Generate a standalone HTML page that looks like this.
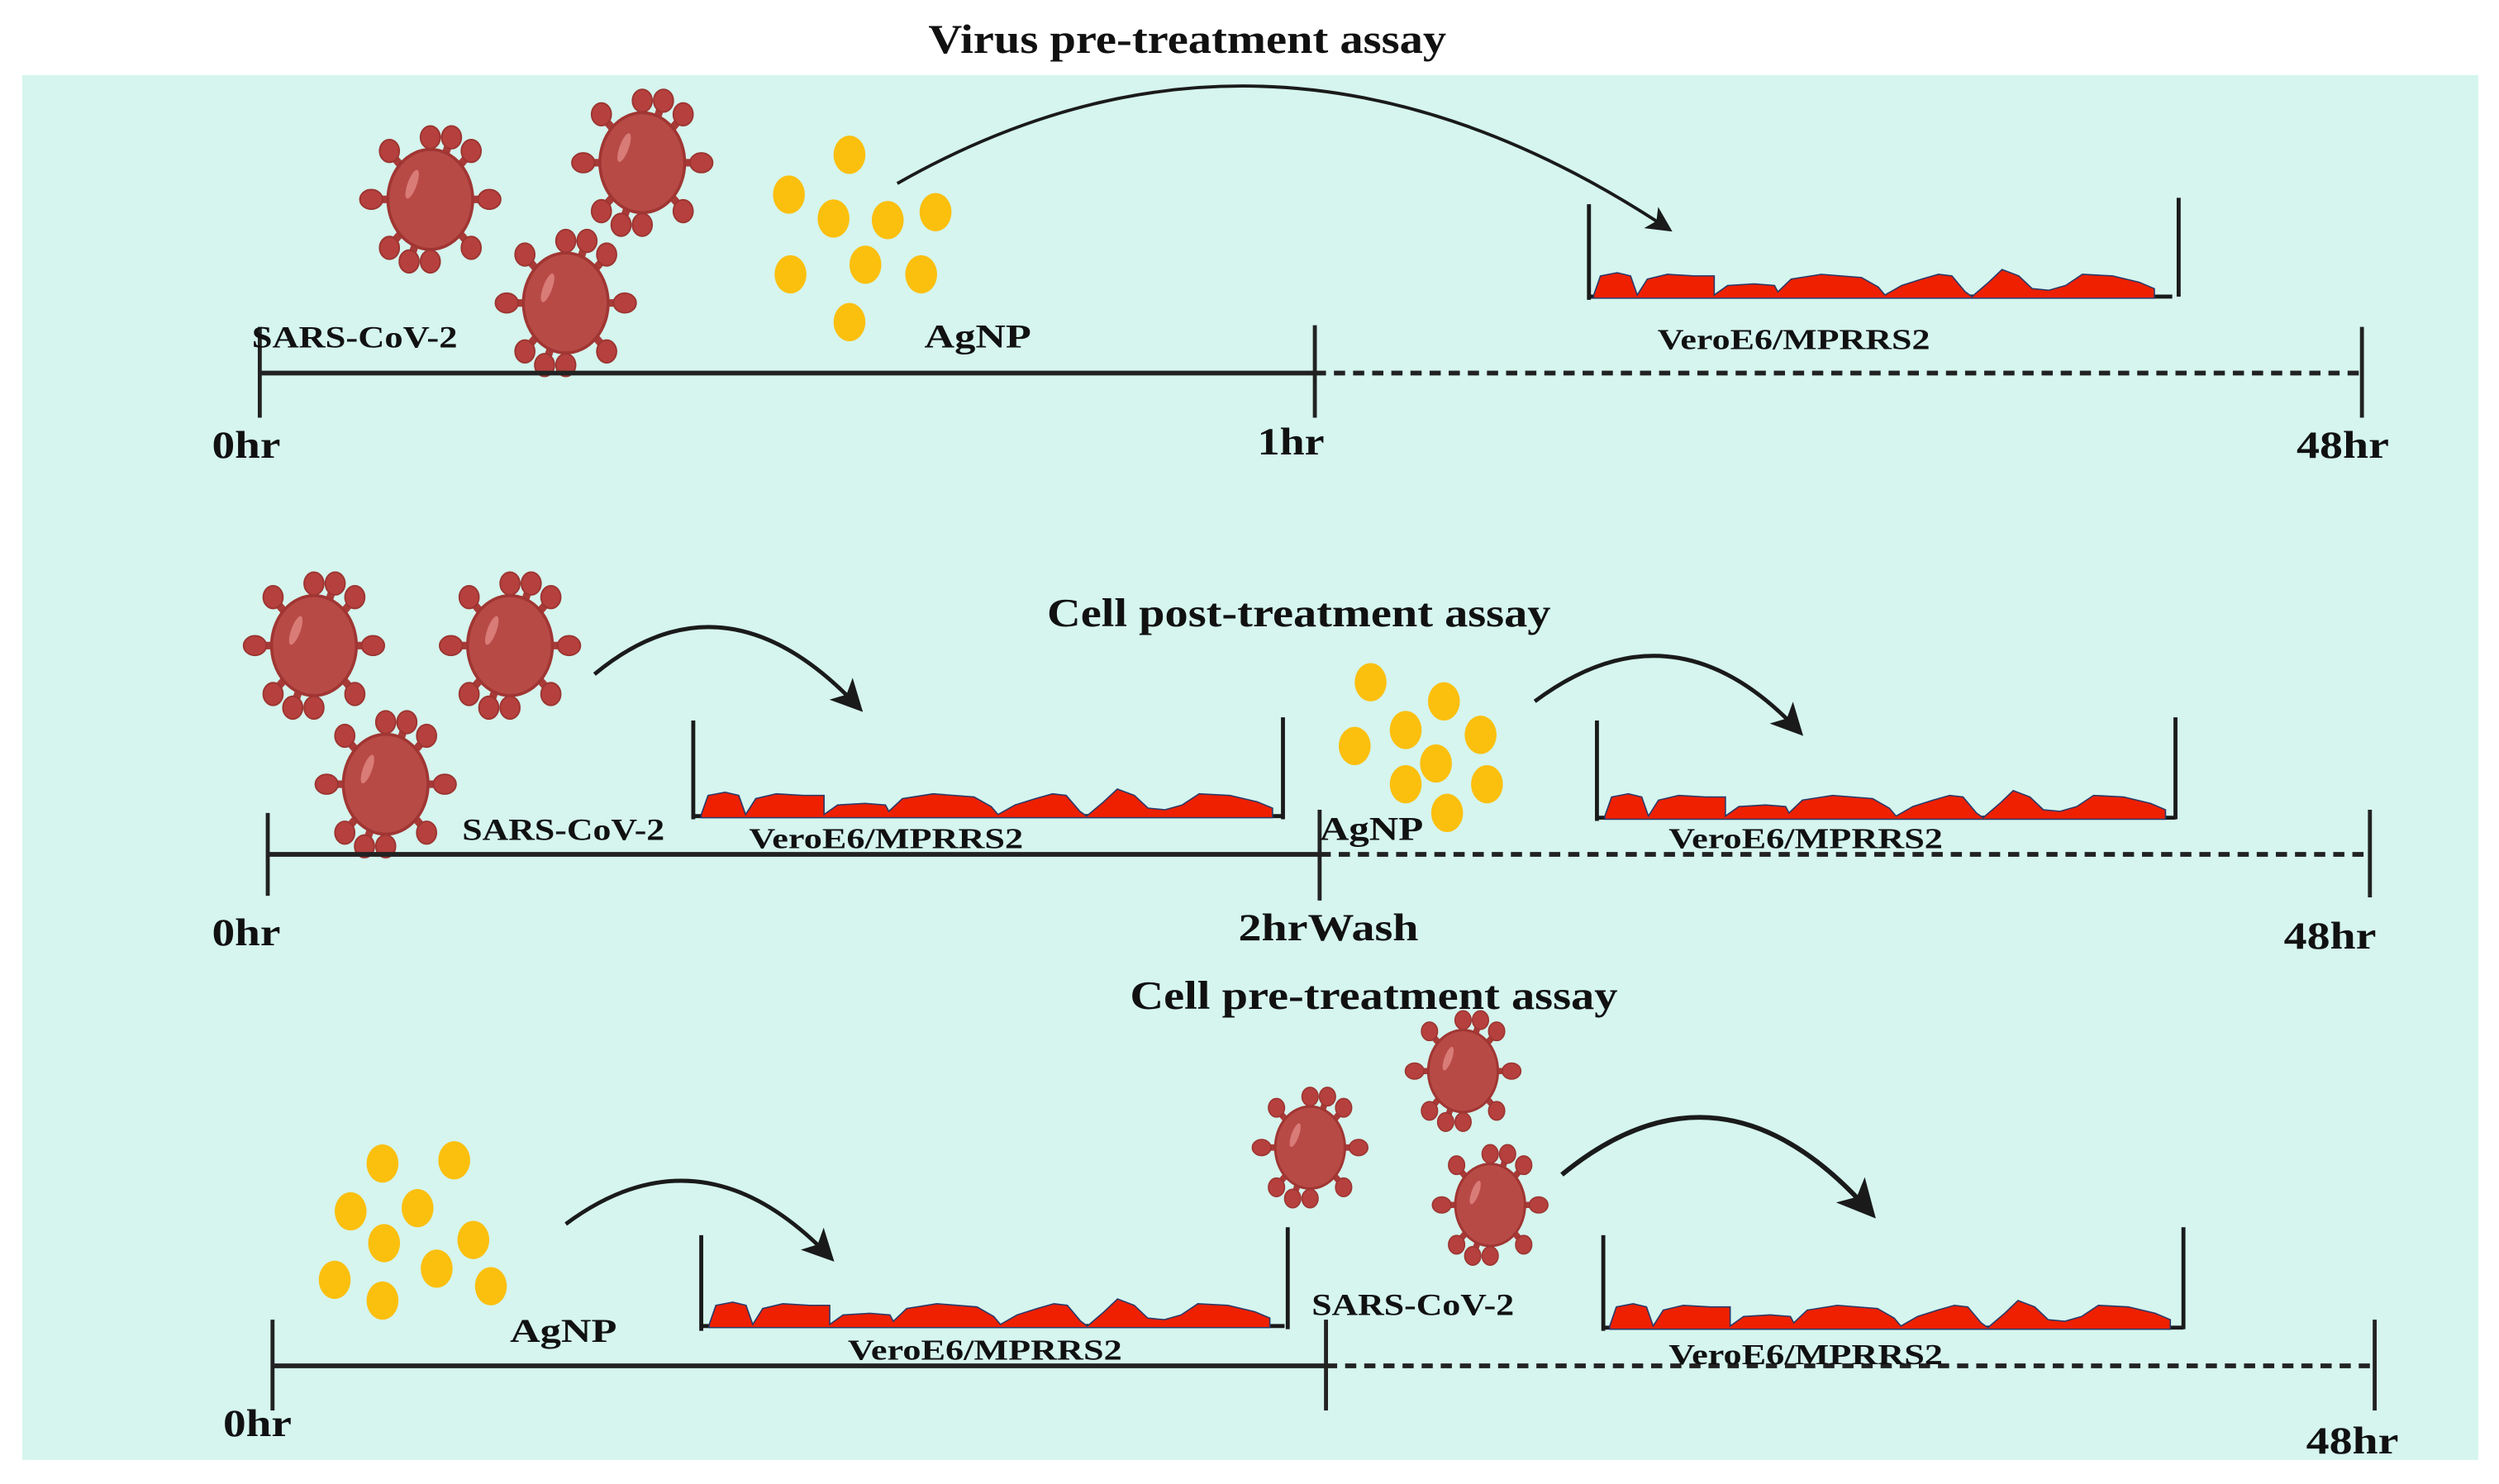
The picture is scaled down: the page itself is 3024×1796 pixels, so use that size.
<!DOCTYPE html>
<html><head><meta charset="utf-8"><style>
html,body{margin:0;padding:0;background:#fff;}
svg{display:block;}
text{font-family:"Liberation Serif",serif;font-weight:bold;fill:#111;}
</style></head><body>
<svg width="3024" height="1796" viewBox="0 0 1568 931" xmlns="http://www.w3.org/2000/svg">
<defs>
<g id="v">
  <g stroke="#a83a37" stroke-width="5" fill="#b5403d">
    <line x1="0" y1="0" x2="0" y2="-40"/><line x1="0" y1="0" x2="0" y2="40"/>
    <line x1="0" y1="0" x2="-37" y2="0"/><line x1="0" y1="0" x2="37" y2="0"/>
    <line x1="0" y1="0" x2="-26" y2="-30"/><line x1="0" y1="0" x2="26" y2="-30"/>
    <line x1="0" y1="0" x2="-26" y2="30"/><line x1="0" y1="0" x2="26" y2="30"/>
    <line x1="0" y1="0" x2="13" y2="-39"/><line x1="0" y1="0" x2="-13" y2="39"/>
  </g>
  <g fill="#b5403d" stroke="#9c3431" stroke-width="1">
    <ellipse cx="0" cy="-41" rx="6.5" ry="7.5"/><ellipse cx="0" cy="41" rx="6.5" ry="7.5"/>
    <ellipse cx="-39" cy="0" rx="7.5" ry="6.5"/><ellipse cx="39" cy="0" rx="7.5" ry="6.5"/>
    <ellipse cx="-27" cy="-32" rx="6.5" ry="7.5"/><ellipse cx="27" cy="-32" rx="6.5" ry="7.5"/>
    <ellipse cx="-27" cy="32" rx="6.5" ry="7.5"/><ellipse cx="27" cy="32" rx="6.5" ry="7.5"/>
    <ellipse cx="14" cy="-41" rx="6.5" ry="7.5"/><ellipse cx="-14" cy="41" rx="6.5" ry="7.5"/>
    <ellipse cx="0" cy="0" rx="28" ry="33" fill="#b84a46" stroke="#a03633" stroke-width="2"/>
  </g>
  <ellipse cx="-12" cy="-10" rx="3" ry="10" fill="#d97c78" transform="rotate(20 -12 -10)"/>
</g>
<path id="cells" d="M0,0 L4,-12 L14,-14 L22,-12 L26,0 L32,-10 L44,-13 L60,-12 L72,-12 L72,0 L80,-6 L96,-7 L108,-6 L110,-2 L118,-10 L136,-13 L160,-11 L170,-5 L174,0 L184,-6 L196,-10 L206,-13 L214,-12 L222,-2 L226,1 L236,-8 L244,-16 L254,-12 L262,-4 L272,-3 L282,-6 L292,-13 L310,-12 L326,-8 L335,-4 L335,2 L0,2 Z" fill="#ee2000" stroke="#2a3a6a" stroke-width="0.8"/>
<marker id="ah" markerWidth="8" markerHeight="8" refX="6" refY="4" orient="auto" markerUnits="strokeWidth"><path d="M0,0 L8,4 L0,8 L2,4 Z" fill="#1a1a1a"/></marker>
</defs>

<rect x="0" y="0" width="1568" height="931" fill="#fff"/>
<rect x="14" y="47" width="1541" height="869" fill="#d5f5ee"/>

<!-- Row 1 -->
<text x="745" y="33" font-size="26" text-anchor="middle" textLength="325" lengthAdjust="spacingAndGlyphs">Virus pre-treatment assay</text>
<use href="#v" transform="translate(270,125) scale(0.95)"/>
<use href="#v" transform="translate(403,102) scale(0.95)"/>
<use href="#v" transform="translate(355,190) scale(0.95)"/>
<g fill="#fbbf0e">
<ellipse cx="533" cy="97" rx="10" ry="12"/><ellipse cx="495" cy="122" rx="10" ry="12"/>
<ellipse cx="523" cy="137" rx="10" ry="12"/><ellipse cx="557" cy="138" rx="10" ry="12"/>
<ellipse cx="587" cy="133" rx="10" ry="12"/><ellipse cx="496" cy="172" rx="10" ry="12"/>
<ellipse cx="543" cy="166" rx="10" ry="12"/><ellipse cx="578" cy="172" rx="10" ry="12"/>
<ellipse cx="533" cy="202" rx="10" ry="12"/>
</g>
<path d="M563,115 Q800,-20 1046,143" fill="none" stroke="#1a1a1a" stroke-width="2" marker-end="url(#ah)"/>
<g stroke="#1a1a1a" stroke-width="2.5" fill="none">
<line x1="997" y1="128" x2="997" y2="188"/><line x1="1367" y1="124" x2="1367" y2="186"/>
<line x1="997" y1="186" x2="1363" y2="186"/>
</g>
<use href="#cells" transform="translate(1000,185) scale(1.05,1)"/>
<g stroke="#222" stroke-width="3">
<line x1="163" y1="234" x2="825" y2="234"/>
<line x1="825" y1="234" x2="1480" y2="234" stroke-dasharray="7,5"/>
</g>
<g stroke="#222" stroke-width="2.5">
<line x1="163" y1="205" x2="163" y2="262"/><line x1="825" y1="204" x2="825" y2="262"/><line x1="1482" y1="205" x2="1482" y2="262"/>
</g>
<text x="158" y="218" font-size="19" textLength="129" lengthAdjust="spacingAndGlyphs">SARS-CoV-2</text>
<text x="580" y="218" font-size="21" textLength="67" lengthAdjust="spacingAndGlyphs">AgNP</text>
<text x="1040" y="219" font-size="18" textLength="171" lengthAdjust="spacingAndGlyphs">VeroE6/MPRRS2</text>
<text x="133" y="287" font-size="24" textLength="43" lengthAdjust="spacingAndGlyphs">0hr</text>
<text x="789" y="285" font-size="24" textLength="42" lengthAdjust="spacingAndGlyphs">1hr</text>
<text x="1441" y="287" font-size="24" textLength="58" lengthAdjust="spacingAndGlyphs">48hr</text>

<!-- Row 2 -->
<text x="815" y="393" font-size="25" text-anchor="middle" textLength="316" lengthAdjust="spacingAndGlyphs">Cell post-treatment assay</text>
<use href="#v" transform="translate(197,405) scale(0.95)"/>
<use href="#v" transform="translate(320,405) scale(0.95)"/>
<use href="#v" transform="translate(242,492) scale(0.95)"/>
<path d="M373,423 Q455,355 538,443" fill="none" stroke="#1a1a1a" stroke-width="2.5" marker-end="url(#ah)"/>
<g stroke="#1a1a1a" stroke-width="2.5" fill="none">
<line x1="435" y1="452" x2="435" y2="514"/><line x1="805" y1="450" x2="805" y2="514"/>
<line x1="435" y1="512" x2="805" y2="512"/>
<line x1="1002" y1="452" x2="1002" y2="515"/><line x1="1365" y1="450" x2="1365" y2="514"/>
<line x1="1002" y1="513" x2="1365" y2="513"/>
</g>
<use href="#cells" transform="translate(440,511) scale(1.07,1)"/>
<use href="#cells" transform="translate(1007,512) scale(1.05,1)"/>
<g fill="#fbbf0e">
<ellipse cx="860" cy="428" rx="10" ry="12"/><ellipse cx="906" cy="440" rx="10" ry="12"/>
<ellipse cx="850" cy="468" rx="10" ry="12"/><ellipse cx="882" cy="458" rx="10" ry="12"/>
<ellipse cx="929" cy="461" rx="10" ry="12"/><ellipse cx="901" cy="479" rx="10" ry="12"/>
<ellipse cx="882" cy="492" rx="10" ry="12"/><ellipse cx="933" cy="492" rx="10" ry="12"/>
<ellipse cx="908" cy="510" rx="10" ry="12"/>
</g>
<path d="M963,440 Q1050,375 1128,458" fill="none" stroke="#1a1a1a" stroke-width="2.5" marker-end="url(#ah)"/>
<g stroke="#222" stroke-width="3">
<line x1="168" y1="536" x2="828" y2="536"/>
<line x1="828" y1="536" x2="1485" y2="536" stroke-dasharray="7,5"/>
</g>
<g stroke="#222" stroke-width="2.5">
<line x1="168" y1="510" x2="168" y2="562"/><line x1="828" y1="508" x2="828" y2="565"/><line x1="1487" y1="508" x2="1487" y2="563"/>
</g>
<text x="290" y="527" font-size="19" textLength="127" lengthAdjust="spacingAndGlyphs">SARS-CoV-2</text>
<text x="470" y="532" font-size="18" textLength="172" lengthAdjust="spacingAndGlyphs">VeroE6/MPRRS2</text>
<text x="828" y="527" font-size="21" textLength="65" lengthAdjust="spacingAndGlyphs">AgNP</text>
<text x="1047" y="532" font-size="18" textLength="172" lengthAdjust="spacingAndGlyphs">VeroE6/MPRRS2</text>
<text x="133" y="593" font-size="24" textLength="43" lengthAdjust="spacingAndGlyphs">0hr</text>
<text x="777" y="590" font-size="24" textLength="113" lengthAdjust="spacingAndGlyphs">2hrWash</text>
<text x="1433" y="595" font-size="24" textLength="58" lengthAdjust="spacingAndGlyphs">48hr</text>

<!-- Row 3 -->
<text x="862" y="633" font-size="25" text-anchor="middle" textLength="306" lengthAdjust="spacingAndGlyphs">Cell pre-treatment assay</text>
<g fill="#fbbf0e">
<ellipse cx="240" cy="730" rx="10" ry="12"/><ellipse cx="285" cy="728" rx="10" ry="12"/>
<ellipse cx="220" cy="760" rx="10" ry="12"/><ellipse cx="262" cy="758" rx="10" ry="12"/>
<ellipse cx="241" cy="780" rx="10" ry="12"/><ellipse cx="297" cy="778" rx="10" ry="12"/>
<ellipse cx="210" cy="803" rx="10" ry="12"/><ellipse cx="274" cy="796" rx="10" ry="12"/>
<ellipse cx="308" cy="807" rx="10" ry="12"/><ellipse cx="240" cy="816" rx="10" ry="12"/>
</g>
<path d="M355,768 Q440,705 520,788" fill="none" stroke="#1a1a1a" stroke-width="2.5" marker-end="url(#ah)"/>
<use href="#v" transform="translate(918,672) scale(0.78)"/>
<use href="#v" transform="translate(822,720) scale(0.78)"/>
<use href="#v" transform="translate(935,756) scale(0.78)"/>
<path d="M980,737 Q1080,655 1173,760" fill="none" stroke="#1a1a1a" stroke-width="3" marker-end="url(#ah)"/>
<g stroke="#1a1a1a" stroke-width="2.5" fill="none">
<line x1="440" y1="775" x2="440" y2="835"/><line x1="808" y1="770" x2="808" y2="834"/>
<line x1="440" y1="832" x2="806" y2="832"/>
<line x1="1006" y1="775" x2="1006" y2="835"/><line x1="1370" y1="770" x2="1370" y2="834"/>
<line x1="1006" y1="833" x2="1370" y2="833"/>
</g>
<use href="#cells" transform="translate(445,831) scale(1.05,1)"/>
<use href="#cells" transform="translate(1010,832) scale(1.05,1)"/>
<g stroke="#222" stroke-width="3">
<line x1="171" y1="857" x2="832" y2="857"/>
<line x1="832" y1="857" x2="1490" y2="857" stroke-dasharray="7,5"/>
</g>
<g stroke="#222" stroke-width="2.5">
<line x1="171" y1="828" x2="171" y2="885"/><line x1="832" y1="828" x2="832" y2="885"/><line x1="1490" y1="828" x2="1490" y2="885"/>
</g>
<text x="320" y="842" font-size="21" textLength="67" lengthAdjust="spacingAndGlyphs">AgNP</text>
<text x="532" y="853" font-size="18" textLength="172" lengthAdjust="spacingAndGlyphs">VeroE6/MPRRS2</text>
<text x="823" y="825" font-size="19" textLength="127" lengthAdjust="spacingAndGlyphs">SARS-CoV-2</text>
<text x="1047" y="856" font-size="18" textLength="172" lengthAdjust="spacingAndGlyphs">VeroE6/MPRRS2</text>
<text x="140" y="901" font-size="24" textLength="43" lengthAdjust="spacingAndGlyphs">0hr</text>
<text x="1447" y="912" font-size="24" textLength="58" lengthAdjust="spacingAndGlyphs">48hr</text>
</svg>
</body></html>
